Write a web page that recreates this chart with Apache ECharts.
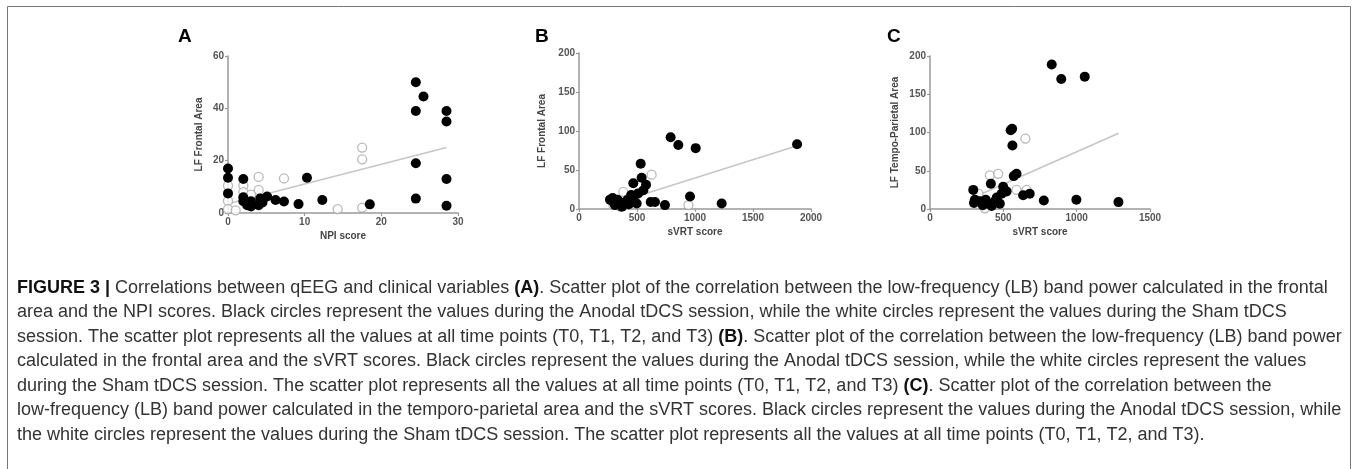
<!DOCTYPE html>
<html>
<head>
<meta charset="utf-8">
<script src="https://cdn.jsdelivr.net/npm/echarts@6/dist/echarts.min.js"></script>
<style>
  html, body { margin: 0; padding: 0; background: #fff; }
  #chart { width: 1357px; height: 469px; }
</style>
</head>
<body>
<div id="chart"></div>
<script>
// A: LF frontal area vs NPI score
let npiAnodal = [[0,17],[0,13.5],[0,7.5],[2,13],[2,6],[2,4.5],[3,2.5],[4,3],[4.2,5.5],[5.1,6.3],
  [6.2,5],[7.3,4.4],[9.2,3.4],[10.3,13.5],[12.3,5],[18.5,3.3],[24.5,50],[25.5,44.5],[24.5,39],
  [24.5,19],[24.5,5.5],[28.5,39],[28.5,35],[28.5,13],[28.5,2.8],[3,4.5],[2.5,3],[4.5,4]];
let npiSham = [[0,10.5],[0,4.6],[0,1.5],[1,1],[2,10.5],[2,8],[4,13.8],[4,8.8],[7.3,13.2],
  [14.3,1.5],[17.5,25],[17.5,20.5],[17.5,2],[3,7]];
let npiFit = [[0,3.5],[28.5,25]];

// B: LF frontal area vs sVRT score
let vrtFrontAnodal = [[532,58],[540,40],[468,33],[578,31],[555,24],[267,12],[296,9],[353,9],[400,8],
  [430,6],[468,12],[497,7],[618,9],[655,9],[741,5],[957,16],[1230,7],[790,92],[856,82],[1006,78],
  [1880,83],[310,5],[330,12],[370,3],[380,7],[420,12],[450,18],[510,20],[290,14],[340,6]];
let vrtFrontSham = [[626,44],[382,22],[943,5],[353,3],[296,5],[420,10],[480,15]];
let vrtFrontFit = [[270,5.5],[1880,81]];

// C: LF tempo-parietal area vs sVRT score
let vrtTempAnodal = [[830,189],[895,170],[1055,173],[560,105],[550,103],[562,83],[590,46],[571,43],
  [415,33],[295,25],[306,12],[340,10],[397,7],[442,10],[476,7],[499,29],[522,23],[488,20],[635,18],
  [680,20],[776,11],[998,12],[1285,9],[300,8],[360,5],[420,4],[455,15],[380,12]];
let vrtTempSham = [[650,92],[408,44],[465,46],[590,25],[658,25],[374,1],[330,20],[500,22]];
let vrtTempFit = [[295,15],[1286,99]];

let panelLetters = ['A', 'B', 'C'];
let xNames = ['NPI score', 'sVRT score', 'sVRT score'];
let yNames = ['LF Frontal Area', 'LF Frontal Area', 'LF Tempo-Parietal Area'];
let xMax = [30, 2000, 1500];
let xStep = [10, 500, 500];
let yMax = [60, 200, 200];
let yStep = [20, 50, 50];

let captionLines = [
  '{b|FIGURE 3 |} Correlations between qEEG and clinical variables {b|(A)}. Scatter plot of the correlation between the low-frequency (LB) band power calculated in the frontal',
  'area and the NPI scores. Black circles represent the values during the Anodal tDCS session, while the white circles represent the values during the Sham tDCS',
  'session. The scatter plot represents all the values at all time points (T0, T1, T2, and T3) {b|(B)}. Scatter plot of the correlation between the low-frequency (LB) band power',
  'calculated in the frontal area and the sVRT scores. Black circles represent the values during the Anodal tDCS session, while the white circles represent the values',
  'during the Sham tDCS session. The scatter plot represents all the values at all time points (T0, T1, T2, and T3) {b|(C)}. Scatter plot of the correlation between the',
  'low-frequency (LB) band power calculated in the temporo-parietal area and the sVRT scores. Black circles represent the values during the Anodal tDCS session, while',
  'the white circles represent the values during the Sham tDCS session. The scatter plot represents all the values at all time points (T0, T1, T2, and T3).'
];

let grids = [
  {left: 228, top: 56, width: 230, height: 157},
  {left: 579, top: 53, width: 232, height: 156},
  {left: 930, top: 56, width: 220, height: 153}
];
let letterPos = [[178, 27], [535, 27], [887, 27]];
let yNameGap = [24, 32, 30];

let anodal = [npiAnodal, vrtFrontAnodal, vrtTempAnodal];
let sham = [npiSham, vrtFrontSham, vrtTempSham];
let fits = [npiFit, vrtFrontFit, vrtTempFit];

let tickFont = {fontSize: 10, fontWeight: 'bold', color: '#555', fontFamily: 'Liberation Sans'};
let axisGray = '#9a9a9a';

function axisCommon() {
  return {
    type: 'value',
    axisLine: {show: true, lineStyle: {color: axisGray, width: 1.5}},
    axisTick: {show: true, length: 3, lineStyle: {color: axisGray, width: 1.2}},
    splitLine: {show: false},
    axisLabel: Object.assign({margin: 4, formatter: v => String(v)}, tickFont),
    nameTextStyle: {fontSize: 10, fontWeight: 'bold', color: '#444', fontFamily: 'Liberation Sans'}
  };
}

let xAxes = [], yAxes = [], series = [];
for (let i = 0; i < 3; i++) {
  xAxes.push(Object.assign(axisCommon(), {
    gridIndex: i, min: 0, max: xMax[i], interval: xStep[i],
    name: xNames[i], nameLocation: 'middle', nameGap: 18
  }));
  yAxes.push(Object.assign(axisCommon(), {
    gridIndex: i, min: 0, max: yMax[i], interval: yStep[i],
    name: yNames[i], nameLocation: 'middle', nameGap: yNameGap[i]
  }));
  series.push({
    type: 'line', xAxisIndex: i, yAxisIndex: i, data: fits[i], symbol: 'none', z: 1,
    lineStyle: {color: '#c6c6c6', width: 1.6}, silent: true
  });
  series.push({
    type: 'scatter', xAxisIndex: i, yAxisIndex: i, data: sham[i], symbol: 'circle', symbolSize: 9, z: 2,
    itemStyle: {color: '#fff', borderColor: '#a8a8a8', borderWidth: 1.3}
  });
  series.push({
    type: 'scatter', xAxisIndex: i, yAxisIndex: i, data: anodal[i], symbol: 'circle', symbolSize: 10, z: 3,
    itemStyle: {color: '#000', opacity: 1}
  });
}

let graphics = [{
  type: 'rect', shape: {x: 7.5, y: 6.5, width: 1343, height: 500},
  style: {fill: 'none', stroke: '#777', lineWidth: 1}, silent: true
}];
panelLetters.forEach((l, i) => {
  graphics.push({
    type: 'text', x: letterPos[i][0], y: letterPos[i][1],
    style: {text: l, font: 'bold 19px "Liberation Sans"', fill: '#000'}
  });
});
captionLines.forEach((t, i) => {
  graphics.push({
    type: 'text', x: 17, y: 288 + i * 24.5, scaleX: 1.0,
    style: {
      text: t, font: '18px "Liberation Sans"', fill: '#333', verticalAlign: 'middle',
      rich: {b: {font: 'bold 18px "Liberation Sans"', fill: '#111'}}
    }
  });
});

let chart = echarts.init(document.getElementById('chart'), null, {renderer: 'canvas'});
chart.setOption({
  animation: false,
  backgroundColor: '#fff',
  grid: grids,
  xAxis: xAxes,
  yAxis: yAxes,
  series: series,
  graphic: graphics
});
</script>
</body>
</html>
